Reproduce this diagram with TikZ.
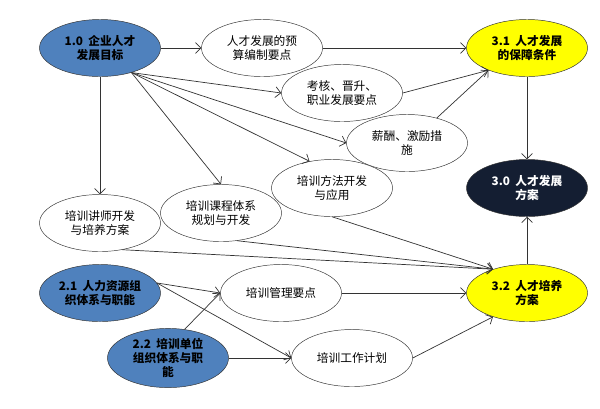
\documentclass[tikz,border=0pt]{standalone}
\usepackage{fontspec}
\newfontfamily\cjk{Noto Sans CJK SC}
\usetikzlibrary{arrows.meta,shapes.geometric}
\definecolor{steel}{RGB}{79,129,189}
\definecolor{navy}{RGB}{20,30,50}
\definecolor{lemon}{RGB}{255,255,0}
\tikzset{
  goal/.style={draw=black!80, ellipse, minimum width=3.63cm, minimum height=1.71cm, inner sep=1pt, align=center, font=\cjk\fontsize{10}{12}\selectfont},
  plainnode/.style={goal, fill=white},
  bluenode/.style={goal, fill=steel, font=\cjk\bfseries\fontsize{10}{12}\selectfont},
  yellownode/.style={goal, fill=lemon, font=\cjk\bfseries\fontsize{10}{12}\selectfont},
  darknode/.style={goal, fill=navy, text=white, font=\cjk\bfseries\fontsize{10}{12}\selectfont},
  link/.style={draw=black!80, semithick, -{Straight Barb[length=1.6mm]}}
}
\begin{document}
\begin{tikzpicture}[x=0.03cm, y=-0.03cm]
    \useasboundingbox (0,0) rectangle (600,408);
    % nodes
    \node[bluenode] (goal) at (100,48) {1.0\ \ 企业人才\\发展目标};
    \node[plainnode] (budget) at (262,48) {人才发展的预\\算编制要点};
    \node[yellownode] (support) at (527,48) {3.1\ \ 人才发展\\的保障条件};
    \node[plainnode] (assess) at (342,93) {考核、晋升、\\职业发展要点};
    \node[plainnode] (pay) at (407,143) {薪酬、激励措\\施};
    \node[darknode] (plan) at (527,188) {3.0\ \ 人才发展\\方案};
    \node[plainnode] (method) at (332,188) {培训方法开发\\与应用};
    \node[plainnode] (course) at (221,213) {培训课程体系\\规划与开发};
    \node[plainnode] (teacher) at (100,223) {培训讲师开发\\与培养方案};
    \node[bluenode] (hr) at (100,293) {2.1\ \ 人力资源组\\织体系与职能};
    \node[yellownode] (train) at (527,293) {3.2\ \ 人才培养\\方案};
    \node[plainnode] (manage) at (281,293) {培训管理要点};
    \node[bluenode] (unit) at (168,358) {2.2\ \ 培训单位\\组织体系与职\\能};
    \node[plainnode] (work) at (352,358) {培训工作计划};

    % connectors
    \draw[link] (goal) -- (budget);
    \draw[link] (budget) -- (support);
    \draw[link] (goal.-38) -- (assess.west);
    \draw[link] (goal.-38) -- (pay.west);
    \draw[link] (goal.-38) -- (method.130);
    \draw[link] (goal.-38) -- (course.north);
    \draw[link] (goal) -- (teacher);
    \draw[link] (assess.east) -- (support.210);
    \draw[link] (pay.40) -- (support.210);
    \draw[link] (support) -- (plan);
    \draw[link] (train) -- (plan);
    \draw[link] (teacher.-50) -- (train.145);
    \draw[link] (course.-60) -- (train.145);
    \draw[link] (method.-90) -- (train.145);
    \draw[link] (hr.10) -- (manage.west);
    \draw[link] (hr.10) -- (work.west);
    \draw[link] (unit.60) -- (manage.west);
    \draw[link] (unit) -- (work);
    \draw[link] (manage) -- (train);
    \draw[link] (work.east) -- (train.215);
\end{tikzpicture}
\end{document}
